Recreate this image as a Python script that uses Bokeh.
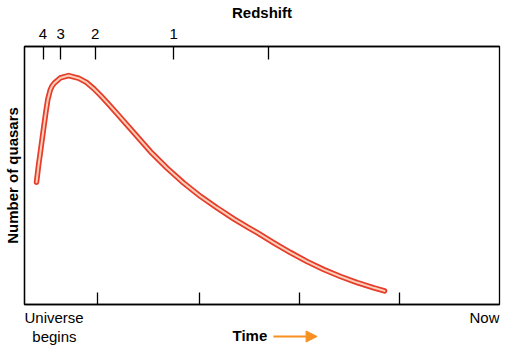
from bokeh.plotting import figure
from bokeh.layouts import column
from bokeh.models import Range1d, LinearAxis, FixedTicker, Arrow, NormalHead
from bokeh.core.properties import value
from bokeh.embed import file_html
from bokeh.resources import INLINE

# Time since the Universe began (0 = begins, 100 = now), arbitrary units
time = [2.53, 2.95, 3.43, 4.00, 4.48, 4.91, 5.41, 5.79, 6.32, 7.52, 9.26, 11.37,
        13.05, 14.59, 16.0, 17.41, 19.52, 23.01, 26.53, 30.04, 33.54, 37.05,
        40.57, 44.06, 47.22, 48.99, 52.48, 56.0, 59.52, 63.01, 66.53, 70.04,
        73.54, 75.79]
# Number of quasars, arbitrary units
quasars = [47.42, 53.85, 60.27, 67.96, 74.35, 79.50, 83.08, 84.62, 85.88, 87.81,
           88.73, 87.73, 86.08, 83.65, 81.04, 78.23, 73.92, 66.62, 59.23, 52.81,
           47.04, 41.92, 37.42, 33.19, 29.73, 27.85, 23.92, 20.15, 16.62, 13.54,
           10.85, 8.5, 6.46, 5.27]

redshift_pos = [3.9, 7.6, 14.9, 31.4, 51.4]
redshift_labels = ["4", "3", "2", "1", ""]
time_ticks = [15.4, 36.8, 57.9, 78.9]

FONT = "Liberation Sans"
ORANGE = "#f7901e"
xr = Range1d(0, 100)

p = figure(width=505, height=308, output_backend="svg", toolbar_location=None,
           x_range=xr, y_range=Range1d(0, 100),
           x_axis_location=None, y_axis_location=None,
           min_border_left=24, min_border_right=6, min_border_top=44,
           min_border_bottom=4, background_fill_color="white",
           border_fill_color="white")
p.xgrid.grid_line_color = None
p.ygrid.grid_line_color = None
p.outline_line_color = "black"
p.outline_line_width = 1.3

# top redshift axis
top = LinearAxis(ticker=FixedTicker(ticks=redshift_pos, minor_ticks=[]),
                 major_label_overrides={v: t for v, t in zip(redshift_pos, redshift_labels)},
                 axis_label="Redshift")
top.major_tick_in = 13
top.major_tick_out = 0
top.major_tick_line_width = 1.3
top.major_tick_line_color = "black"
top.axis_line_color = "black"
top.axis_line_width = 1.3
top.major_label_text_font = FONT
top.major_label_text_font_size = "15px"
top.major_label_text_color = "black"
top.major_label_standoff = 8
top.axis_label_text_font = FONT
top.axis_label_text_font_size = "15px"
top.axis_label_text_font_style = "bold"
top.axis_label_text_color = "black"
top.axis_label_standoff = 5
p.add_layout(top, "above")

# bottom time axis (ticks only)
bottom = LinearAxis(ticker=FixedTicker(ticks=time_ticks, minor_ticks=[]),
                    major_label_overrides={v: "" for v in time_ticks})
bottom.major_tick_in = 12
bottom.major_tick_out = 0
bottom.major_tick_line_width = 1.3
bottom.major_tick_line_color = "black"
bottom.axis_line_color = "black"
bottom.axis_line_width = 1.3
bottom.major_label_standoff = 0
bottom.major_label_text_font_size = "0px"
p.add_layout(bottom, "below")

# left axis: label only
left = LinearAxis(ticker=FixedTicker(ticks=[], minor_ticks=[]),
                  axis_label="Number of quasars")
left.major_tick_in = 0
left.major_tick_out = 0
left.major_label_standoff = 0
left.major_label_text_font_size = "0px"
left.axis_line_color = "black"
left.axis_line_width = 1.3
left.axis_label_text_font = FONT
left.axis_label_text_font_size = "15px"
left.axis_label_text_font_style = "bold"
left.axis_label_text_color = "black"
left.axis_label_standoff = 4
p.add_layout(left, "left")

# curve: red outer stroke with pale core
p.line(time, quasars, line_color="#e63c2a", line_width=5.5,
       line_cap="round", line_join="round")
p.line(time, quasars, line_color="#fccfb8", line_width=2,
       line_cap="round", line_join="round")

# strip below the plot for the time-axis captions (y in pixels from its top)
s = figure(width=505, height=43, output_backend="svg", toolbar_location=None,
           x_range=xr, y_range=Range1d(43, 0),
           x_axis_location=None, y_axis_location=None,
           min_border_left=24, min_border_right=6, min_border_top=0,
           min_border_bottom=0, background_fill_color="white",
           border_fill_color="white")
s.xgrid.grid_line_color = None
s.ygrid.grid_line_color = None
s.outline_line_color = None

tk = dict(text_font=value(FONT), text_font_size="15px", text_color="black",
          text_baseline="top")
s.text(x=[0], y=[0], text=["Universe"], text_align="left", **tk)
s.text(x=[6.3], y=[19.5], text=["begins"], text_align="center", **tk)
s.text(x=[100], y=[0], text=["Now"], text_align="right", **tk)
s.text(x=[51.1], y=[18.5], text=["Time"], text_align="right",
       text_font_style="bold", **tk)
s.add_layout(Arrow(end=NormalHead(size=11, fill_color=ORANGE, line_color=ORANGE),
                   x_start=52.4, y_start=28, x_end=61.6, y_end=28,
                   line_color=ORANGE, line_width=2.2))

layout = column(p, s, spacing=0)
open("out.html", "w").write(file_html(layout, INLINE))
